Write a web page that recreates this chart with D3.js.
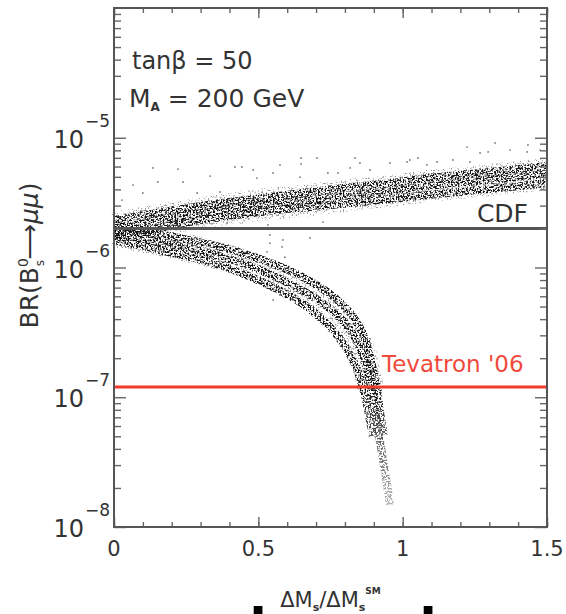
<!DOCTYPE html>
<html>
<head>
<meta charset="utf-8">
<script src="https://cdn.jsdelivr.net/npm/d3@7"></script>
<style>
  body { margin: 0; background: #fff; }
  svg { display: block; }
  text { font-family: "DejaVu Sans", sans-serif; }
</style>
</head>
<body>
<svg id="chart" width="566" height="614"></svg>
<script>
// ---- data ----
const xTickMajor = [0, 0.5, 1, 1.5];
const xTickLabels = ['0', '0.5', '1', '1.5'];
const yDecadeExp = [-8, -7, -6, -5];

const cdfBound = 2.0e-6;
const tevatronBound = 1.2e-7;

// upper branch: three strands
const upperX   = [0, 0.12, 0.26, 0.40, 0.54, 0.68, 0.82, 0.96, 1.09, 1.23, 1.37, 1.50];
const upperHi  = [2.32e-6, 2.58e-6, 2.88e-6, 3.20e-6, 3.49e-6, 3.82e-6, 4.17e-6, 4.48e-6, 4.90e-6, 5.26e-6, 5.64e-6, 6.06e-6];
const upperMid = [2.02e-6, 2.24e-6, 2.54e-6, 2.82e-6, 3.09e-6, 3.31e-6, 3.62e-6, 3.89e-6, 4.25e-6, 4.56e-6, 4.90e-6, 5.26e-6];
const upperLo  = [1.75e-6, 1.95e-6, 2.24e-6, 2.49e-6, 2.73e-6, 2.93e-6, 3.14e-6, 3.37e-6, 3.62e-6, 3.89e-6, 4.17e-6, 4.48e-6];

// lower branch: three strands
const lowHiX  = [0, 0.159, 0.367, 0.506, 0.610, 0.696, 0.766, 0.818, 0.852, 0.873, 0.894, 0.911, 0.921, 0.935];
const lowHiY  = [2.09e-6, 1.81e-6, 1.44e-6, 1.16e-6, 9.40e-7, 7.46e-7, 5.82e-7, 4.46e-7, 3.42e-7, 2.67e-7, 1.77e-7, 1.20e-7, 7.97e-8, 5.12e-8];
const lowMidX = [0, 0.159, 0.367, 0.506, 0.610, 0.696, 0.766, 0.818, 0.852, 0.873, 0.890, 0.904, 0.918, 0.932, 0.946, 0.956];
const lowMidY = [1.845e-6, 1.572e-6, 1.226e-6, 9.57e-7, 7.46e-7, 5.82e-7, 4.46e-7, 3.30e-7, 2.40e-7, 1.77e-7, 1.20e-7, 7.97e-8, 5.12e-8, 3.28e-8, 2.11e-8, 1.48e-8];
const lowLoX  = [0, 0.159, 0.367, 0.506, 0.610, 0.679, 0.741, 0.790, 0.824, 0.849, 0.869, 0.883, 0.897];
const lowLoY  = [1.629e-6, 1.364e-6, 1.045e-6, 7.87e-7, 6.03e-7, 4.79e-7, 3.60e-7, 2.67e-7, 2.01e-7, 1.48e-7, 1.04e-7, 7.30e-8, 4.94e-8];

// scattered points outside the bands
const strayX = [0.135, 0.222, 0.066, 0.152, 0.239, 0.333, 0.419, 0.443, 0.482, 0.495, 0.028, 0.100, 0.288, 0.367,
                0.575, 0.648, 0.648, 0.703, 0.835, 0.852, 0.818, 0.551, 0.644, 0.741, 0.776, 0.887, 0.956, 1.015,
                0.724, 0.540, 0.679, 1.223, 1.320, 1.434, 1.268, 1.296, 1.372, 1.431, 1.476, 1.025, 1.053, 1.119,
                1.174, 1.233, 1.084, 0.447, 0.533, 0.585, 0.582, 0.530, 0.540, 0.592, 0.551, 0.575];
const strayY = [5.85e-6, 5.74e-6, 4.32e-6, 4.56e-6, 4.56e-6, 5.07e-6, 5.95e-6, 5.95e-6, 5.64e-6, 4.89e-6, 3.31e-6, 3.75e-6, 3.75e-6, 3.82e-6,
                6.17e-6, 6.98e-6, 6.28e-6, 6.98e-6, 6.98e-6, 6.39e-6, 5.85e-6, 5.35e-6, 4.98e-6, 5.35e-6, 5.35e-6, 5.64e-6, 6.39e-6, 6.50e-6,
                2.24e-6, 1.78e-6, 1.69e-6, 8.48e-6, 9.11e-6, 8.79e-6, 7.63e-6, 7.77e-6, 8.04e-6, 7.77e-6, 8.04e-6, 6.74e-6, 6.98e-6, 6.50e-6,
                6.74e-6, 6.50e-6, 6.17e-6, 2.02e-6, 2.13e-6, 1.63e-6, 1.44e-6, 1.32e-6, 1.54e-6, 1.20e-6, 5.62e-7, 6.14e-7];

// ---- layout ----
const W = 566, H = 614;
const L = 114, R = 547, T = 8, B = 527;

const svg = d3.select('#chart');
const defs = svg.append('defs');

const x = d3.scaleLinear().domain([0, 1.5]).range([L, R]);
const y = d3.scaleLog().domain([1e-8, 1e-4]).range([B, T]);

// speckle filter so the bands look like a cloud of dots
function addSpeck(id, seed, thr) {
  const f = defs.append('filter').attr('id', id)
    .attr('filterUnits', 'userSpaceOnUse')
    .attr('x', 0).attr('y', 0).attr('width', W).attr('height', H)
    .attr('color-interpolation-filters', 'sRGB');
  f.append('feTurbulence').attr('type', 'fractalNoise').attr('baseFrequency', 0.6)
    .attr('numOctaves', 2).attr('seed', seed).attr('result', 'noise');
  f.append('feColorMatrix').attr('in', 'noise').attr('type', 'matrix')
    .attr('values', '0 0 0 0 0  0 0 0 0 0  0 0 0 0 0  1 0 0 0 0').attr('result', 'na');
  f.append('feComponentTransfer').attr('in', 'na').attr('result', 'mask')
    .append('feFuncA').attr('type', 'linear').attr('slope', 8).attr('intercept', -8 * thr);
  f.append('feComposite').attr('in', 'SourceGraphic').attr('in2', 'mask')
    .attr('operator', 'in').attr('result', 'sp');
  f.append('feGaussianBlur').attr('in', 'sp').attr('stdDeviation', 0.45);
}
addSpeck('spA', 3, 0.46);
addSpeck('spB', 11, 0.46);
addSpeck('spC', 23, 0.46);
addSpeck('spHalo', 41, 0.58);

// tail of the lower branch fades out
const grad = defs.append('linearGradient').attr('id', 'fadeG')
  .attr('gradientUnits', 'userSpaceOnUse')
  .attr('x1', 0).attr('x2', 0).attr('y1', y(1.2e-7)).attr('y2', y(1.5e-8));
grad.append('stop').attr('offset', 0).attr('stop-color', '#fff');
grad.append('stop').attr('offset', 1).attr('stop-color', '#555');
defs.append('mask').attr('id', 'fadeM')
  .attr('maskUnits', 'userSpaceOnUse')
  .attr('x', 0).attr('y', 0).attr('width', W).attr('height', H)
  .append('rect').attr('width', W).attr('height', H).attr('fill', 'url(#fadeG)');

const line = d3.line()
  .x(d => x(d[0])).y(d => y(d[1]))
  .curve(d3.curveCatmullRom.alpha(0.5));

const zip = (a, b) => a.map((v, i) => [v, b[i]]);

const strands = [
  { pts: zip(upperX, upperHi), f: 'spA' },
  { pts: zip(upperX, upperMid), f: 'spB' },
  { pts: zip(upperX, upperLo), f: 'spC' },
  { pts: zip(lowHiX, lowHiY), f: 'spB' },
  { pts: zip(lowMidX, lowMidY), f: 'spC' },
  { pts: zip(lowLoX, lowLoY), f: 'spA' }
];

const plot = svg.append('g').attr('mask', 'url(#fadeM)');

// loose halo round each branch (not along the thin tail)
const lowHalo = zip(lowMidX, lowMidY).filter(d => d[1] >= tevatronBound);
plot.selectAll('path.halo')
  .data([zip(upperX, upperMid), lowHalo])
  .join('path')
  .attr('class', 'halo')
  .attr('d', line)
  .attr('fill', 'none')
  .attr('stroke', '#000')
  .attr('stroke-width', (d, i) => i ? 28 : 32)
  .attr('filter', 'url(#spHalo)')
  .attr('opacity', 0.4);

plot.selectAll('g.strand')
  .data(strands)
  .join('g')
  .attr('class', 'strand')
  .attr('filter', d => `url(#${d.f})`)
  .append('path')
  .attr('d', d => line(d.pts))
  .attr('fill', 'none')
  .attr('stroke', '#000')
  .attr('stroke-width', 8)
  .attr('opacity', 0.9);

plot.selectAll('circle.stray')
  .data(zip(strayX, strayY))
  .join('circle')
  .attr('class', 'stray')
  .attr('cx', d => x(d[0]))
  .attr('cy', d => y(d[1]))
  .attr('r', 0.9)
  .attr('fill', '#777');

// limit lines
svg.append('line')
  .attr('x1', x(0)).attr('x2', x(1.5))
  .attr('y1', y(cdfBound)).attr('y2', y(cdfBound))
  .attr('stroke', '#555').attr('stroke-width', 3);
svg.append('line')
  .attr('x1', x(0)).attr('x2', x(1.5))
  .attr('y1', y(tevatronBound)).attr('y2', y(tevatronBound))
  .attr('stroke', '#f23a2a').attr('stroke-width', 3);

// ticks on all four sides, pointing inward
function tickAxis(axis, tf, values, size) {
  const g = svg.append('g').attr('transform', tf)
    .call(axis.tickValues(values).tickSize(size).tickFormat(''));
  g.select('.domain').remove();
  g.selectAll('line').attr('stroke', '#666').attr('stroke-width', 1.4);
}
const xMinor = x.ticks(15);
const yAll = y.ticks();
const isDecade = v => Math.abs(Math.log10(v) - Math.round(Math.log10(v))) < 1e-6;
const yMinor = yAll.filter(v => !isDecade(v));
const yMajor = yDecadeExp.map(e => Math.pow(10, e));

tickAxis(d3.axisBottom(x), `translate(0,${B})`, xMinor, -5);
tickAxis(d3.axisBottom(x), `translate(0,${B})`, xTickMajor, -10);
tickAxis(d3.axisTop(x), `translate(0,${T})`, xMinor, -5);
tickAxis(d3.axisTop(x), `translate(0,${T})`, xTickMajor, -10);
tickAxis(d3.axisLeft(y), `translate(${L},0)`, yMinor, -7);
tickAxis(d3.axisLeft(y), `translate(${L},0)`, yMajor, -12);
tickAxis(d3.axisRight(y), `translate(${R},0)`, yMinor, -7);
tickAxis(d3.axisRight(y), `translate(${R},0)`, yMajor, -12);

// frame
svg.append('rect')
  .attr('x', L).attr('y', T).attr('width', R - L).attr('height', B - T)
  .attr('fill', 'none').attr('stroke', '#555').attr('stroke-width', 2);

// tick labels
svg.append('g').selectAll('text')
  .data(xTickMajor)
  .join('text')
  .attr('x', d => x(d))
  .attr('y', 556)
  .attr('text-anchor', 'middle')
  .attr('font-size', 21)
  .attr('fill', '#333')
  .text((d, i) => xTickLabels[i]);

const yl = svg.append('g');
yl.selectAll('text.base')
  .data(yDecadeExp)
  .join('text')
  .attr('class', 'base')
  .attr('x', 84)
  .attr('y', d => y(Math.pow(10, d)) + 10)
  .attr('text-anchor', 'end')
  .attr('font-size', 24)
  .attr('fill', '#333')
  .text('10');
yl.selectAll('text.exp')
  .data(yDecadeExp)
  .join('text')
  .attr('class', 'exp')
  .attr('x', 85)
  .attr('y', d => y(Math.pow(10, d)) - 11)
  .attr('font-size', 17)
  .attr('fill', '#333')
  .text(d => '\u2212' + Math.abs(d));

// annotations
svg.append('text')
  .attr('x', 132).attr('y', 69)
  .attr('font-size', 24).attr('fill', '#333')
  .text('tanβ = 50');
const ma = svg.append('text')
  .attr('x', 129).attr('y', 107)
  .attr('font-size', 25).attr('fill', '#333');
ma.append('tspan').text('M');
ma.append('tspan').attr('font-size', 12).attr('font-weight', 'bold').attr('dy', 4).text('A');
ma.append('tspan').attr('dy', -4).text(' = 200 GeV');

svg.append('text')
  .attr('x', 528).attr('y', y(cdfBound) - 6)
  .attr('text-anchor', 'end')
  .attr('font-size', 25).attr('fill', '#333')
  .text('CDF');
svg.append('text')
  .attr('x', 382).attr('y', y(tevatronBound) - 15)
  .attr('font-size', 23).attr('fill', '#f04a3c')
  .text("Tevatron '06");

// axis titles
const yt = svg.append('text')
  .attr('transform', `translate(38,${(T + B) / 2 - 12}) rotate(-90)`)
  .attr('text-anchor', 'middle')
  .attr('font-size', 25).attr('fill', '#333');
yt.append('tspan').text('BR(B');
yt.append('tspan').attr('font-size', 14).attr('dy', -10).text('0');
yt.append('tspan').attr('font-size', 12).attr('dx', -8).attr('dy', 16).text('s');
yt.append('tspan').attr('dy', -6).text('\u27F6');
yt.append('tspan').attr('font-style', 'italic').text('μμ');
yt.append('tspan').text(')');

const xt = svg.append('text')
  .attr('x', (L + R) / 2).attr('y', 607)
  .attr('text-anchor', 'middle')
  .attr('font-size', 21).attr('fill', '#333');
xt.append('tspan').text('ΔM');
xt.append('tspan').attr('font-size', 11).attr('font-weight', 'bold').attr('dy', 4).text('s');
xt.append('tspan').attr('dy', -4).text('/ΔM');
xt.append('tspan').attr('font-size', 11).attr('font-weight', 'bold').attr('dy', 4).text('s');
xt.append('tspan').attr('font-size', 9).attr('font-weight', 'bold').attr('dy', -17).text('SM');

// cut-off tops of the following line of text
const frag = svg.append('g')
  .attr('font-family', '"Liberation Sans", sans-serif')
  .attr('font-weight', 'bold').attr('font-size', 50).attr('fill', '#000');
frag.append('text').attr('x', 249.5).attr('y', 644).text('l');
frag.append('text').attr('x', 419.5).attr('y', 644).text('l');
</script>
</body>
</html>
